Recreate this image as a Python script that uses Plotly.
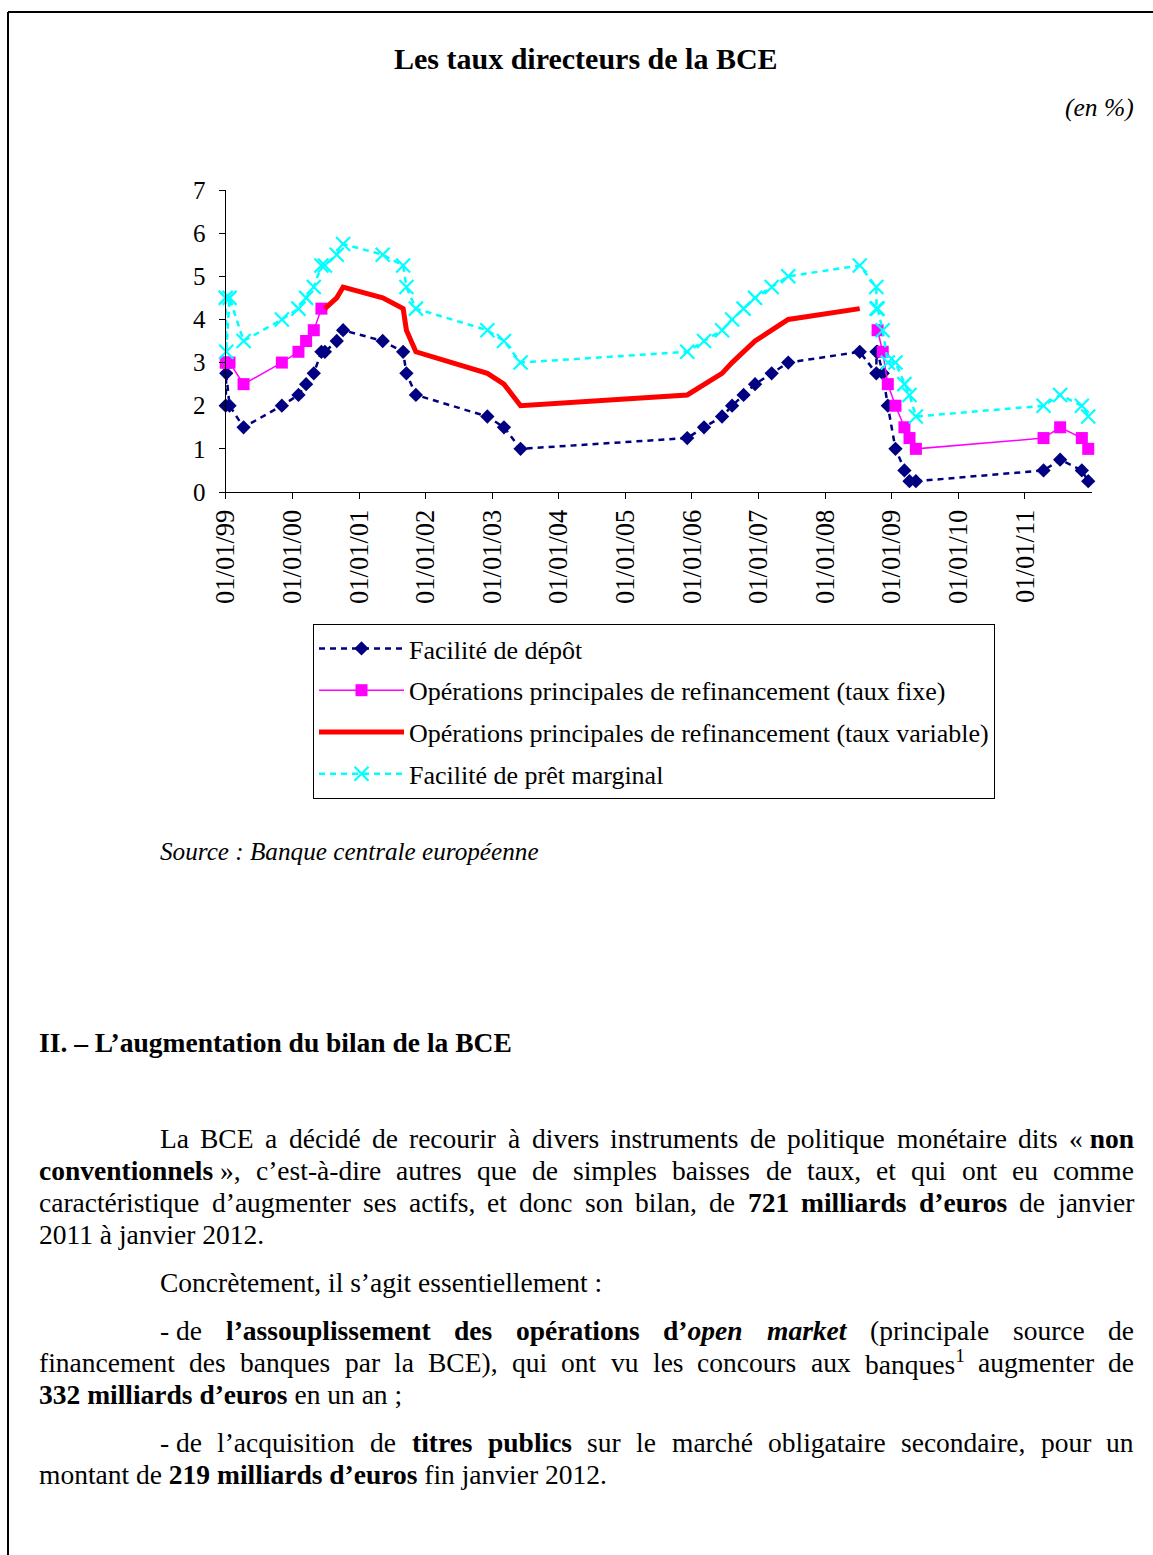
import plotly.graph_objects as go

W, H = 1153, 1555
FONT = "Liberation Serif, Times New Roman, serif"

# ---------------- data ----------------
dates = ["1999-01-01", "1999-01-04", "1999-01-22", "1999-04-09", "1999-11-05",
         "2000-02-04", "2000-03-17", "2000-04-28", "2000-06-09", "2000-06-28",
         "2000-09-01", "2000-10-06", "2001-05-11", "2001-08-31", "2001-09-18",
         "2001-11-09", "2002-12-06", "2003-03-07", "2003-06-06", "2005-12-06",
         "2006-03-08", "2006-06-15", "2006-08-09", "2006-10-11", "2006-12-13",
         "2007-03-14", "2007-06-13", "2008-07-09", "2008-10-08", "2008-10-09",
         "2008-10-15", "2008-11-12", "2008-12-10", "2009-01-21", "2009-03-11",
         "2009-04-08", "2009-05-13", "2011-04-13", "2011-07-13", "2011-11-09",
         "2011-12-14"]

depot = [2.00, 2.75, 2.00, 1.50, 2.00, 2.25, 2.50, 2.75, 3.25, 3.25,
         3.50, 3.75, 3.50, 3.25, 2.75, 2.25, 1.75, 1.50, 1.00, 1.25,
         1.50, 1.75, 2.00, 2.25, 2.50, 2.75, 3.00, 3.25, 2.75, 3.25,
         3.25, 2.75, 2.00, 1.00, 0.50, 0.25, 0.25, 0.50, 0.75, 0.50,
         0.25]

taux_fixe = [3.00, 3.00, 3.00, 2.50, 3.00, 3.25, 3.50, 3.75, 4.25, None,
             None, None, None, None, None, None, None, None, None, None,
             None, None, None, None, None, None, None, None, None, None,
             3.75, 3.25, 2.50, 2.00, 1.50, 1.25, 1.00, 1.25, 1.50, 1.25,
             1.00]

taux_variable = [None, None, None, None, None, None, None, None, None, 4.25,
                 4.50, 4.75, 4.50, 4.25, 3.75, 3.25, 2.75, 2.50, 2.00, 2.25,
                 2.50, 2.75, 3.00, 3.25, 3.50, 3.75, 4.00, 4.25, None, None,
                 None, None, None, None, None, None, None, None, None, None,
                 None]

pret_marginal = [4.50, 3.25, 4.50, 3.50, 4.00, 4.25, 4.50, 4.75, 5.25, 5.25,
                 5.50, 5.75, 5.50, 5.25, 4.75, 4.25, 3.75, 3.50, 3.00, 3.25,
                 3.50, 3.75, 4.00, 4.25, 4.50, 4.75, 5.00, 5.25, 4.75, 4.25,
                 4.25, 3.75, 3.00, 3.00, 2.50, 2.25, 1.75, 2.00, 2.25, 2.00,
                 1.75]

tick_dates = ["1999-01-01", "2000-01-01", "2001-01-01", "2002-01-01", "2003-01-01",
              "2004-01-01", "2005-01-01", "2006-01-01", "2007-01-01", "2008-01-01",
              "2009-01-01", "2010-01-01", "2011-01-01"]

series_names = ["Facilité de dépôt",
                "Opérations principales de refinancement (taux fixe)",
                "Opérations principales de refinancement (taux variable)",
                "Facilité de prêt marginal"]


def px(x):
    return x / W


def py(y):
    return 1 - y / H


# ---------------- chart ----------------
fig = go.Figure()
fig.add_trace(go.Scatter(
    x=dates, y=depot, name=series_names[0], mode="lines+markers",
    line=dict(color="#000080", width=2.5, dash="6px,5px"),
    marker=dict(symbol="diamond", size=11, color="#000080"),
    legendgroup="g1", cliponaxis=False))
fig.add_trace(go.Scatter(
    x=dates, y=taux_fixe, name=series_names[1], mode="lines+markers",
    line=dict(color="#FF00FF", width=1.5),
    marker=dict(symbol="square", size=12, color="#FF00FF"),
    legendgroup="g2", cliponaxis=False))
fig.add_trace(go.Scatter(
    x=dates, y=taux_variable, name=series_names[2], mode="lines",
    line=dict(color="#FF0000", width=5),
    legendgroup="g3", cliponaxis=False))
fig.add_trace(go.Scatter(
    x=dates, y=pret_marginal, name=series_names[3], mode="lines+markers",
    line=dict(color="#00FFFF", width=2.5, dash="6px,5px"),
    marker=dict(symbol="x-thin", size=14, color="#00FFFF",
                line=dict(color="#00FFFF", width=2.2)),
    legendgroup="g4", cliponaxis=False))

fig.update_layout(
    width=W, height=H,
    margin=dict(l=0, r=0, t=0, b=0, pad=0, autoexpand=False),
    paper_bgcolor="white", plot_bgcolor="white",
    showlegend=True,
    legend=dict(x=px(313), y=py(624), xanchor="left", yanchor="top",
                bordercolor="black", borderwidth=1, bgcolor="white",
                font=dict(family=FONT, size=26, color="black"),
                itemwidth=85, traceorder="grouped", tracegroupgap=5),
    xaxis=dict(domain=[px(225.7), px(1091.5)], type="date",
               range=["1999-01-01", "2012-01-01"],
               tickvals=tick_dates, tickformat="%d/%m/%y", tickangle=-90,
               ticks="outside", ticklen=6, tickwidth=1, tickcolor="black",
               showline=True, linecolor="black", linewidth=1.2,
               showgrid=False, zeroline=False,
               tickfont=dict(family=FONT, size=26.5, color="black")),
    yaxis=dict(domain=[py(492), py(190)], range=[0, 7], dtick=1, tick0=0,
               ticks="outside", ticklen=6, tickwidth=1, tickcolor="black",
               showline=True, linecolor="black", linewidth=1.2,
               showgrid=False, zeroline=False, ticklabelstandoff=8,
               tickfont=dict(family=FONT, size=25, color="black")),
)

# ---------------- page frame ----------------
fig.add_shape(type="line", xref="paper", yref="paper",
              x0=px(8), y0=py(12), x1=1, y1=py(12),
              line=dict(color="black", width=2))
fig.add_shape(type="line", xref="paper", yref="paper",
              x0=px(8), y0=py(12), x1=px(8), y1=0,
              line=dict(color="black", width=2))

# ---------------- text ----------------
REG = dict(zip("abcdefghijklmnopqrstuvwxyz",
               [444, 500, 444, 500, 444, 333, 500, 500, 278, 278, 500, 278, 778,
                500, 500, 500, 500, 333, 389, 278, 500, 500, 722, 500, 500, 444]))
REG.update(dict(zip("ABCDEFGHIJKLMNOPQRSTUVWXYZ",
                    [722, 667, 667, 722, 611, 556, 722, 722, 333, 389, 722, 611, 889,
                     722, 722, 556, 722, 667, 556, 611, 722, 722, 944, 722, 722, 611])))
BOLD = dict(zip("abcdefghijklmnopqrstuvwxyz",
                [500, 556, 444, 556, 444, 333, 500, 556, 278, 333, 556, 278, 833,
                 556, 500, 556, 556, 444, 389, 333, 556, 500, 722, 500, 500, 444]))
BOLD.update(dict(zip("ABCDEFGHIJKLMNOPQRSTUVWXYZ",
                     [722, 667, 722, 722, 667, 611, 778, 778, 389, 500, 778, 667, 944,
                      722, 778, 611, 778, 722, 556, 667, 722, 722, 1000, 722, 722, 667])))
ITAL = dict(zip("abcdefghijklmnopqrstuvwxyz",
                [500, 500, 444, 500, 444, 278, 500, 500, 278, 278, 444, 278, 722,
                 500, 500, 500, 500, 389, 389, 278, 500, 444, 667, 444, 444, 389]))
BITAL = dict(zip("abcdefghijklmnopqrstuvwxyz",
                 [500, 500, 444, 500, 444, 333, 500, 556, 278, 278, 500, 278, 778,
                  556, 500, 500, 500, 389, 389, 278, 556, 444, 667, 500, 444, 389]))
COMMON = {" ": 250, "\u00a0": 250, ",": 250, ".": 250, ":": 278, ";": 278,
          "(": 333, ")": 333, "-": 333, "\u2019": 333, "«": 500, "»": 500,
          "–": 500, "¹": 300}
for ch in "0123456789":
    COMMON[ch] = 500
ACC = {"é": "e", "è": "e", "ê": "e", "à": "a", "â": "a", "ô": "o", "ç": "c"}


def char_w(ch, b, i):
    base = ACC.get(ch, ch)
    table = BITAL if (b and i) else BOLD if b else ITAL if i else REG
    if base in table:
        return table[base]
    return COMMON.get(ch, 500)


def parse_words(line):
    words, runs, buf = [], [], ""
    b = i = False

    def flush():
        nonlocal buf
        if buf:
            runs.append((buf, b, i))
        buf = ""

    for ch in line:
        if ch == "*":
            flush()
            b = not b
        elif ch == "_":
            flush()
            i = not i
        elif ch == " ":
            flush()
            if runs:
                words.append(runs)
            runs = []
        else:
            buf += ch
    flush()
    if runs:
        words.append(runs)
    return words


def runs_html(runs):
    out = ""
    for t, b, i in runs:
        t = t.replace("¹", "<sup>1</sup>")
        if i:
            t = "<i>" + t + "</i>"
        if b:
            t = "<b>" + t + "</b>"
        out += t
    return out


def runs_width(runs, fs):
    return sum(char_w(ch, b, i) for t, b, i in runs for ch in t) * fs / 1000.0


def text_ann(x, y, html, size, anchor="left"):
    fig.add_annotation(x=px(x), y=py(y), xref="paper", yref="paper",
                       xanchor=anchor, yanchor="middle", text=html,
                       showarrow=False, borderpad=0, borderwidth=0,
                       font=dict(family=FONT, size=size, color="black"))


FS = 27.5
RIGHT = 1134
body_lines = [
    (160, 1138, True, "La BCE a décidé de recourir à divers instruments de politique monétaire dits «\u00a0*non*"),
    (39, 1170, True, "*conventionnels*\u00a0», c’est-à-dire autres que de simples baisses de taux, et qui ont eu comme"),
    (39, 1202, True, "caractéristique d’augmenter ses actifs, et donc son bilan, de *721 milliards d’euros* de janvier"),
    (39, 1234, False, "2011 à janvier 2012."),
    (160, 1282, False, "Concrètement, il s’agit essentiellement :"),
    (160, 1330, True, "-\u00a0de *l’assouplissement des opérations d’_open market_* (principale source de"),
    (39, 1362, True, "financement des banques par la BCE), qui ont vu les concours aux banques¹ augmenter de"),
    (39, 1394, False, "*332 milliards d’euros* en un an ;"),
    (160, 1442, True, "-\u00a0de l’acquisition de *titres publics* sur le marché obligataire secondaire, pour un"),
    (39, 1474, False, "montant de *219 milliards d’euros* fin janvier 2012."),
]

for x0, y0, justify, line in body_lines:
    words = parse_words(line)
    if not justify:
        text_ann(x0, y0, " ".join(runs_html(w) for w in words), FS)
        continue
    widths = [runs_width(w, FS) for w in words]
    gap = (RIGHT - x0 - sum(widths)) / (len(words) - 1)
    xx = x0
    for k, w in enumerate(words):
        if k == len(words) - 1:
            text_ann(RIGHT, y0, runs_html(w), FS, anchor="right")
        else:
            text_ann(xx, y0, runs_html(w), FS)
        xx += widths[k] + gap

text_ann(586, 58, "<b>Les taux directeurs de la BCE</b>", 30, anchor="center")
text_ann(1134, 107, "<i>(en %)</i>", 25.5, anchor="right")
text_ann(160, 851, "<i>Source : Banque centrale européenne</i>", 25.2)
text_ann(39, 1042, "<b>II. – L’augmentation du bilan de la BCE</b>", 27.5)

fig.write_html("out.html",
               config={"displayModeBar": False},
               post_script="document.body.style.margin='0px';"
                           "document.body.style.padding='0px';"
                           "document.body.style.overflow='hidden';")
